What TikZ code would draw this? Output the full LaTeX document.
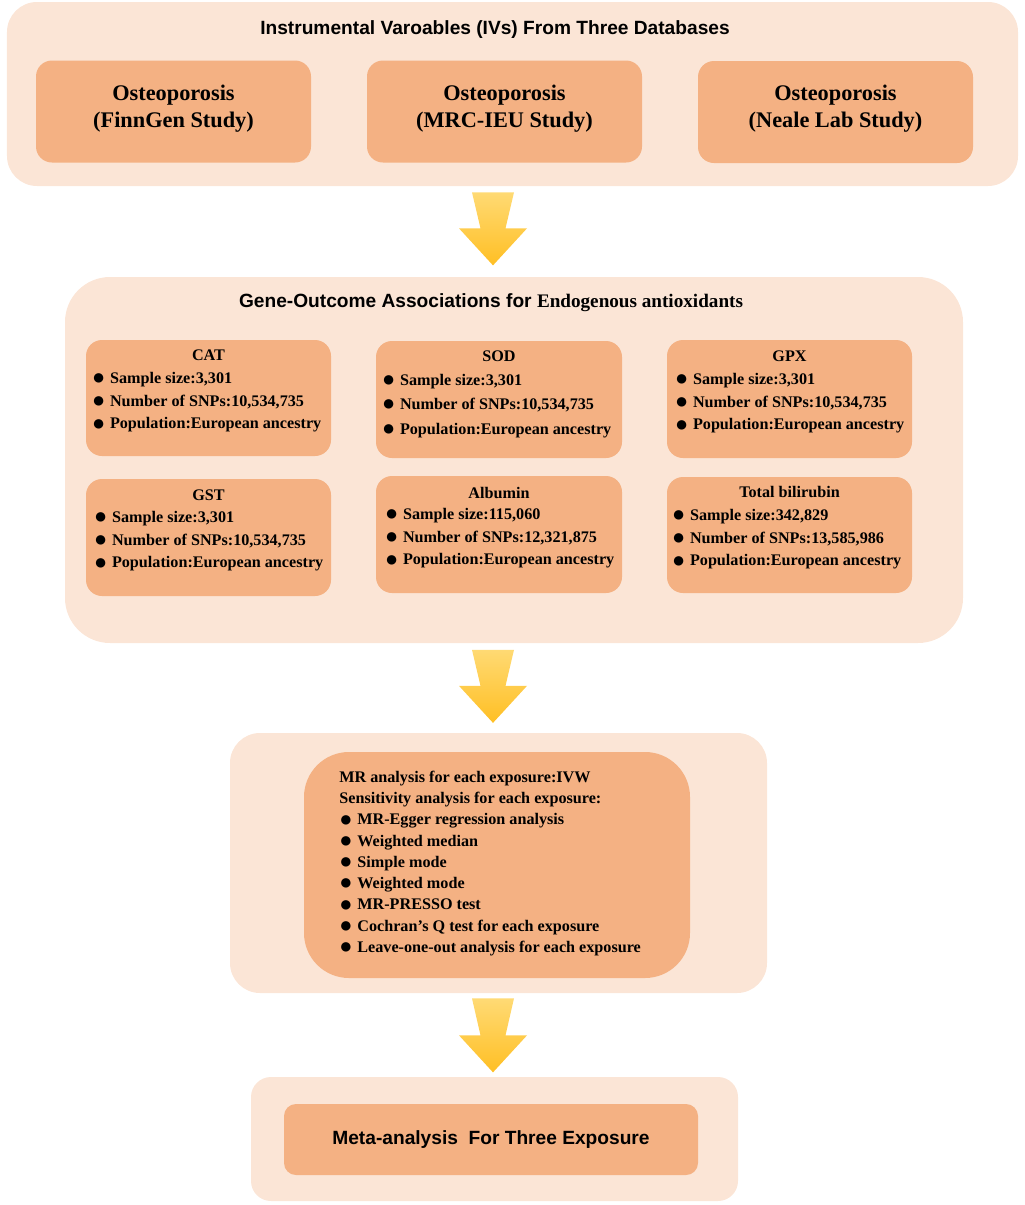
\documentclass[tikz,border=0pt]{standalone}
\usepackage{fontspec}
\setmainfont{Liberation Serif}
\setsansfont{Liberation Sans}
\usepackage{tikz}
\usetikzlibrary{positioning, calc}

\definecolor{panelbg}{HTML}{FBE5D6}
\definecolor{boxbg}{HTML}{F4B183}
\definecolor{goldlight}{HTML}{FFDC7A}
\definecolor{golddark}{HTML}{FFBF24}

\newcommand{\blob}{\raisebox{-0.15ex}{\scalebox{1.35}{●}}\hspace{0.3em}}

\begin{document}
\begin{tikzpicture}[
    panel/.style={rectangle, fill=panelbg, rounded corners=0.6cm},
    box/.style={rectangle, fill=boxbg, rounded corners=0.32cm},
    head/.style={font=\sffamily\bfseries\fontsize{10.9}{13}\selectfont},
    study/.style={font=\bfseries\fontsize{12.7}{15.3}\selectfont, align=center},
    gene/.style={font=\bfseries\fontsize{9.2}{13}\selectfont, inner sep=0pt},
    facts/.style={font=\bfseries\fontsize{9.2}{13}\selectfont, align=left, inner sep=0pt},
    goldarrow/.style={top color=goldlight, bottom color=golddark, draw=none}]

\useasboundingbox (0,0) rectangle (20.48,-24.10);

% IVs from three databases
\node[panel, minimum width=20.22cm, minimum height=3.68cm] (ivs) at (10.25,-1.88) {};
\node[head] at (9.9,-0.6) {Instrumental Varoables (IVs) From Three Databases};
\node[box, study, minimum width=5.5cm, minimum height=2.04cm] (finngen) at (3.47,-2.23) {Osteoporosis\\(FinnGen Study)\rule[-0.22cm]{0pt}{0pt}};
\node[box, study, minimum width=5.5cm, minimum height=2.04cm] (mrcieu) at (10.09,-2.23) {Osteoporosis\\\hspace*{0.45em}(MRC-IEU Study)\hspace*{0.45em}\rule[-0.22cm]{0pt}{0pt}};
\node[box, study, minimum width=5.5cm, minimum height=2.04cm] (neale) at (16.71,-2.24) {Osteoporosis\\\hspace*{0.45em}(Neale Lab Study)\hspace*{0.45em}\rule[-0.22cm]{0pt}{0pt}};

% gene-outcome associations
\node[panel, rounded corners=0.9cm, minimum width=17.96cm, minimum height=7.32cm] (genes) at (10.28,-9.2) {};
\node[head] at (9.82,-6.06) {Gene-Outcome Associations for {\rmfamily Endogenous antioxidants}};

\node[box, minimum width=4.9cm, minimum height=2.32cm] (cat) at (4.17,-7.96) {};
\node[gene, below=0.19cm of cat.north] {CAT};
\node[facts, below right=0.64cm and 0.12cm of cat.north west] {\blob Sample size:3,301\\\blob Number of SNPs:10,534,735\\\blob Population:European ancestry};

\node[box, minimum width=4.92cm, minimum height=2.34cm] (sod) at (9.98,-7.99) {};
\node[gene, below=0.19cm of sod.north] {SOD};
\node[facts, below right=0.66cm and 0.12cm of sod.north west, font=\bfseries\fontsize{9.2}{14}\selectfont] {\blob Sample size:3,301\\\blob Number of SNPs:10,534,735\\\blob Population:European ancestry};

\node[box, minimum width=4.9cm, minimum height=2.36cm] (gpx) at (15.79,-7.98) {};
\node[gene, below=0.21cm of gpx.north] {GPX};
\node[facts, below right=0.66cm and 0.16cm of gpx.north west] {\blob Sample size:3,301\\\blob Number of SNPs:10,534,735\\\blob Population:European ancestry};

\node[box, minimum width=4.9cm, minimum height=2.34cm] (gst) at (4.17,-10.75) {};
\node[gene, below=0.22cm of gst.north] {GST};
\node[facts, below right=0.64cm and 0.16cm of gst.north west] {\blob Sample size:3,301\\\blob Number of SNPs:10,534,735\\\blob Population:European ancestry};

\node[box, minimum width=4.92cm, minimum height=2.34cm] (albumin) at (9.98,-10.69) {};
\node[gene, below=0.22cm of albumin.north] {Albumin};
\node[facts, below right=0.64cm and 0.18cm of albumin.north west] {\blob Sample size:115,060\\\blob Number of SNPs:12,321,875\\\blob Population:European ancestry};

\node[box, minimum width=4.9cm, minimum height=2.32cm] (bilirubin) at (15.79,-10.7) {};
\node[gene, below=0.19cm of bilirubin.north] {Total bilirubin};
\node[facts, below right=0.64cm and 0.1cm of bilirubin.north west] {\blob Sample size:342,829\\\blob Number of SNPs:13,585,986\\\blob Population:European ancestry};

% MR and sensitivity analyses
\node[panel, minimum width=10.74cm, minimum height=5.2cm] (mrpanel) at (9.97,-17.26) {};
\node[box, rounded corners=0.9cm, minimum width=7.72cm, minimum height=4.52cm] (mrbox) at (9.94,-17.3) {};
\node[facts, font=\bfseries\fontsize{9.2}{12.1}\selectfont, anchor=west] (methods) at (6.78,-17.27) {MR analysis for each exposure:IVW\\Sensitivity analysis for each exposure:\\\blob MR-Egger regression analysis\\\blob Weighted median\\\blob Simple mode\\\blob Weighted mode\\\blob MR-PRESSO test\\\blob Cochran’s Q test for each exposure\\\blob Leave-one-out analysis for each exposure};

% meta-analysis
\node[panel, rounded corners=0.4cm, minimum width=9.74cm, minimum height=2.48cm] (metapanel) at (9.89,-22.78) {};
\node[box, head, rounded corners=0.24cm, minimum width=8.28cm, minimum height=1.42cm] (meta) at (9.82,-22.79) {Meta-analysis\ \ For Three Exposure};

% block arrows between the stages
\coordinate (spine) at (9.86,0);
\shade[goldarrow] (spine |- ivs.south) ++(-0.42,-0.12) -- ++(0.84,0) -- ++(-0.17,-0.72) -- ++(0.43,0) -- ++(-0.68,-0.74) -- ++(-0.68,0.74) -- ++(0.43,0) -- cycle;
\shade[goldarrow] (spine |- genes.south) ++(-0.42,-0.13) -- ++(0.84,0) -- ++(-0.17,-0.72) -- ++(0.43,0) -- ++(-0.68,-0.74) -- ++(-0.68,0.74) -- ++(0.43,0) -- cycle;
\shade[goldarrow] (spine |- mrpanel.south) ++(-0.42,-0.1) -- ++(0.84,0) -- ++(-0.17,-0.74) -- ++(0.43,0) -- ++(-0.68,-0.74) -- ++(-0.68,0.74) -- ++(0.43,0) -- cycle;

\end{tikzpicture}
\end{document}
